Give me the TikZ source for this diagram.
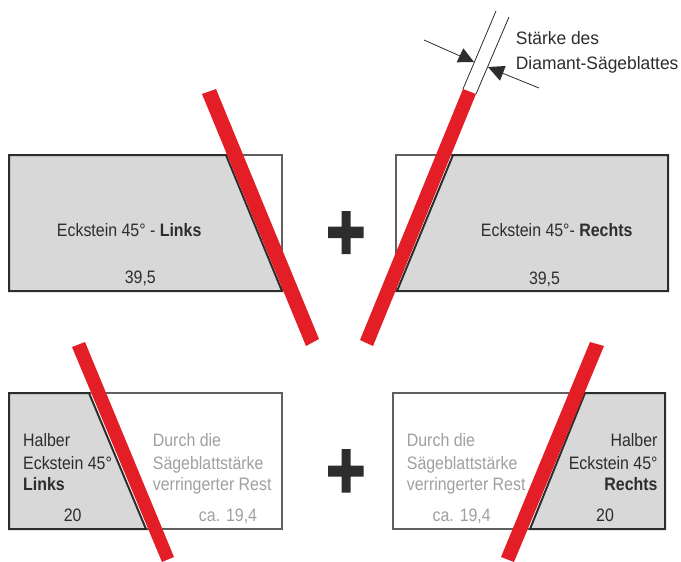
\documentclass[tikz,border=0pt]{standalone}
\usepackage{fontspec}
\setmainfont{Liberation Sans}
\definecolor{sawred}{RGB}{227,30,38}
\definecolor{cutgray}{RGB}{216,216,216}
\definecolor{inkdark}{RGB}{45,45,45}
\definecolor{restline}{RGB}{95,95,95}
\definecolor{resttext}{RGB}{160,160,160}
\tikzset{
  outline/.style={draw=restline,line width=1.1pt,fill=white},
  piece/.style={draw=inkdark,line width=2pt,fill=cutgray,line join=miter},
  blade/.style={fill=sawred,draw=none},
  bladeline/.style={draw=inkdark,line width=0.8pt},
  txt/.style={text=inkdark,font=\fontsize{18}{22}\selectfont,inner sep=0pt,xscale=0.885},
  note/.style={text=inkdark,font=\fontsize{18}{22}\selectfont,inner sep=0pt,xscale=0.967},
  rest/.style={txt,text=resttext},
  plus/.style={fill=inkdark,draw=none}
}
\begin{document}
\begin{tikzpicture}[x=1pt,y=-1pt]
\useasboundingbox (0,0) rectangle (681,562);
% top left
\draw[outline] (9,155) rectangle (282,291);
\draw[piece] (9,155) -- (226,155) -- (282,291) -- (9,291) -- cycle;
\fill[blade] (202,94) -- (216,89) -- (319,339) -- (306,346) -- cycle;
\node[txt,anchor=base] (tl) at (129.2,236) {Eckstein 45° - \textbf{Links}};
\node[txt,anchor=base] (tln) at (140.3,283) {39,5};
% top right
\draw[outline] (396,155) rectangle (668,291);
\draw[piece] (668,155) -- (453,155) -- (397,291) -- (668,291) -- cycle;
\fill[blade] (463,89) -- (476,94) -- (373,346) -- (360,340) -- cycle;
\coordinate (la) at (463,89); \coordinate (lb) at (496,11);
\coordinate (ra) at (476,94); \coordinate (rb) at (509,17);
\draw[bladeline] (la) -- (lb);
\draw[bladeline] (ra) -- (rb);
\coordinate (a1) at (424,40); \coordinate (a1t) at (474,62);
\coordinate (a2) at (539,88); \coordinate (a2t) at (488,67);
\draw[bladeline] (a1) -- (460,56);
\draw[bladeline] (a2) -- (502,73);
\fill[inkdark] (a1t) -- (463.3,48.3) -- (456.7,62.3) -- cycle;
\fill[inkdark] (a2t) -- (505.7,66) -- (500,80.7) -- cycle;
\node[note,anchor=base west] (st1) at (515.7,45) {Stärke des};
\node[note,anchor=base west] (st2) at (515.7,69.3) {Diamant-Sägeblattes};
\node[txt,anchor=base] (tr) at (556.7,236) {Eckstein 45°- \textbf{Rechts}};
\node[txt,anchor=base] (trn) at (544.5,284) {39,5};
% plus
\fill[plus] (328,226.5) -- (341.5,226.5) -- (341.5,211) -- (350.5,211) -- (350.5,226.5) -- (363.5,226.5) -- (363.5,238) -- (350.5,238) -- (350.5,254) -- (341.5,254) -- (341.5,238) -- (328,238) -- cycle;
\fill[plus] (328,465.5) -- (341.5,465.5) -- (341.5,449) -- (350.5,449) -- (350.5,465.5) -- (363.5,465.5) -- (363.5,476.5) -- (350.5,476.5) -- (350.5,492.5) -- (341.5,492.5) -- (341.5,476.5) -- (328,476.5) -- cycle;
% bottom left
\draw[outline] (9,393) rectangle (282,529);
\draw[piece] (9,393) -- (89,393) -- (146,529) -- (9,529) -- cycle;
\fill[blade] (72,347) -- (85,342) -- (174,557) -- (162,562) -- cycle;
\node[txt,anchor=base west] (b1) at (23,446.7) {Halber};
\node[txt,anchor=base west] (b2) at (23,469) {Eckstein 45°};
\node[txt,anchor=base west] (b3) at (23,490.7) {\textbf{Links}};
\node[txt,anchor=base] (b4) at (72.7,521.7) {20};
\node[rest,anchor=base west] (c1) at (152.7,446.7) {Durch die};
\node[rest,anchor=base west] (c2) at (152.7,469) {Sägeblattstärke};
\node[rest,anchor=base west] (c3) at (152.7,490.7) {verringerter Rest};
\node[rest,anchor=base] (c4) at (228,521.7) {ca. 19,4};
% bottom right
\draw[outline] (393,393) rectangle (665,529);
\draw[piece] (665,393) -- (585,393) -- (530,529) -- (665,529) -- cycle;
\fill[blade] (590,342) -- (604,346) -- (514,562) -- (501,557) -- cycle;
\node[txt,anchor=base east] (d1) at (657.7,446.7) {Halber};
\node[txt,anchor=base east] (d2) at (657.7,469) {Eckstein 45°};
\node[txt,anchor=base east] (d3) at (657.7,490.7) {\textbf{Rechts}};
\node[txt,anchor=base] (d4) at (605,521.7) {20};
\node[rest,anchor=base west] (e1) at (406.7,446.7) {Durch die};
\node[rest,anchor=base west] (e2) at (406.7,469) {Sägeblattstärke};
\node[rest,anchor=base west] (e3) at (406.7,490.7) {verringerter Rest};
\node[rest,anchor=base] (e4) at (461.7,521.7) {ca. 19,4};
\end{tikzpicture}
\end{document}
